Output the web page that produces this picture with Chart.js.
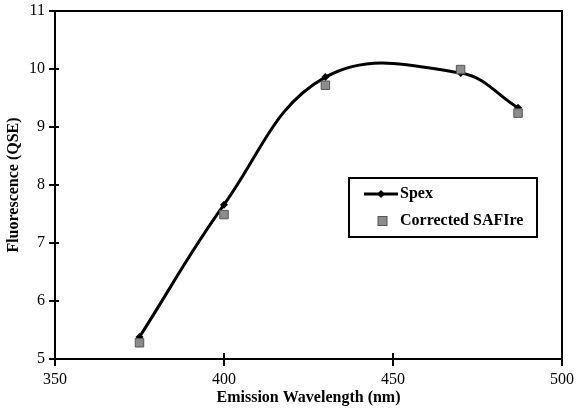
<!DOCTYPE html>
<html>
<head>
<meta charset="utf-8">
<script src="https://cdn.jsdelivr.net/npm/chart.js@4"></script>
<style>
  html, body { margin: 0; padding: 0; background: #fff; }
  #wrap { width: 576px; height: 410px; }
</style>
</head>
<body>
<div id="wrap"><canvas id="c" width="576" height="410"></canvas></div>
<script>
// Emission wavelengths (nm) and measured fluorescence (QSE)
const wavelengths = [375, 400, 430, 470, 487];
const spexValues = [5.38, 7.66, 9.86, 9.93, 9.33];
const safireValues = [5.28, 7.49, 9.72, 9.99, 9.24];
const xTicks = [350, 400, 450, 500];
const yTicks = [5, 6, 7, 8, 9, 10, 11];
const seriesNames = ['Spex', 'Corrected SAFIre'];

const serif = '"Liberation Serif", "Times New Roman", serif';

const toPoints = (vals) => wavelengths.map((w, i) => ({ x: w, y: vals[i] }));

// Frame, crossing tick marks and the boxed legend
const decorations = {
  id: 'decorations',
  afterDraw(chart) {
    const ctx = chart.ctx;
    const a = chart.chartArea;
    const xs = chart.scales.x, ys = chart.scales.y;
    ctx.save();
    ctx.strokeStyle = '#000';
    ctx.lineWidth = 2;
    ctx.beginPath();
    ctx.moveTo(a.left, a.top); ctx.lineTo(a.right, a.top); ctx.lineTo(a.right, a.bottom);
    ctx.stroke();
    yTicks.forEach(v => {
      const y = ys.getPixelForValue(v);
      ctx.beginPath(); ctx.moveTo(a.left - 6, y); ctx.lineTo(a.left + 4, y); ctx.stroke();
    });
    xTicks.forEach(v => {
      const x = xs.getPixelForValue(v);
      ctx.beginPath(); ctx.moveTo(x, a.bottom - 6); ctx.lineTo(x, a.bottom + 7); ctx.stroke();
    });

    // legend box
    const bx = 349, by = 178, bw = 188, bh = 59;
    ctx.lineWidth = 2;
    ctx.strokeStyle = '#000';
    ctx.fillStyle = '#fff';
    ctx.fillRect(bx, by, bw, bh);
    ctx.strokeRect(bx, by, bw, bh);
    const d0 = chart.data.datasets[0], d1 = chart.data.datasets[1];
    // Spex sample
    const ly1 = by + 16;
    ctx.strokeStyle = d0.borderColor;
    ctx.lineWidth = d0.borderWidth;
    ctx.beginPath(); ctx.moveTo(bx + 15, ly1); ctx.lineTo(bx + 49, ly1); ctx.stroke();
    ctx.fillStyle = d0.pointBackgroundColor;
    ctx.beginPath();
    const cx = bx + 32;
    ctx.moveTo(cx, ly1 - 4); ctx.lineTo(cx + 4, ly1); ctx.lineTo(cx, ly1 + 4); ctx.lineTo(cx - 4, ly1);
    ctx.closePath(); ctx.fill();
    // SAFIre sample
    const ly2 = by + 43;
    ctx.fillStyle = d1.pointBackgroundColor;
    ctx.strokeStyle = d1.pointBorderColor;
    ctx.lineWidth = 1;
    ctx.fillRect(bx + 29, ly2 - 4.5, 9, 9);
    ctx.strokeRect(bx + 29, ly2 - 4.5, 9, 9);
    ctx.fillStyle = '#000';
    ctx.font = 'bold 16px ' + serif;
    ctx.textBaseline = 'middle';
    ctx.textAlign = 'left';
    ctx.fillText(seriesNames[0], bx + 51, ly1);
    ctx.fillText(seriesNames[1], bx + 51, ly2);
    ctx.restore();
  }
};

new Chart(document.getElementById('c'), {
  type: 'scatter',
  data: {
    datasets: [
      {
        label: seriesNames[0],
        data: toPoints(spexValues),
        showLine: true,
        tension: 0.4,
        borderColor: '#000',
        borderWidth: 3,
        pointStyle: 'rectRot',
        pointRadius: 4,
        pointBackgroundColor: '#000',
        pointBorderColor: '#000',
        pointBorderWidth: 0,
        order: 2
      },
      {
        label: seriesNames[1],
        data: toPoints(safireValues),
        showLine: false,
        pointStyle: 'rect',
        pointRadius: 6,
        pointBackgroundColor: '#8c8c8c',
        pointBorderColor: '#555',
        pointBorderWidth: 1,
        order: 1
      }
    ]
  },
  options: {
    responsive: false,
    animation: false,
    devicePixelRatio: 1,
    layout: { padding: { top: 11, right: 14, left: 0, bottom: 0 } },
    plugins: { legend: { display: false }, tooltip: { enabled: false } },
    scales: {
      x: {
        type: 'linear', min: 350, max: 500,
        afterBuildTicks: s => { s.ticks = xTicks.map(v => ({ value: v })); },
        afterFit: s => { s.height = 51; s.paddingLeft = 0; s.paddingRight = 0; },
        grid: { display: false, drawTicks: false },
        border: { display: true, color: '#000', width: 2 },
        ticks: { color: '#000', padding: 11, font: { family: serif, size: 16 }, maxRotation: 0 },
        title: { display: true, text: 'Emission Wavelength (nm)', color: '#000',
                 font: { family: serif, size: 16, weight: 'bold' }, padding: { top: 0, bottom: 2.5 } }
      },
      y: {
        type: 'linear', min: 5, max: 11,
        afterBuildTicks: s => { s.ticks = yTicks.map(v => ({ value: v })); },
        afterFit: s => { s.width = 55; s.paddingTop = 0; s.paddingBottom = 0; },
        grid: { display: false, drawTicks: false },
        border: { display: true, color: '#000', width: 2 },
        ticks: { color: '#000', padding: 10, font: { family: serif, size: 16 } },
        title: { display: true, text: 'Fluorescence (QSE)', color: '#000',
                 font: { family: serif, size: 16, weight: 'bold' }, padding: { top: 4.5, bottom: 0 } }
      }
    }
  },
  plugins: [decorations]
});
</script>
</body>
</html>
